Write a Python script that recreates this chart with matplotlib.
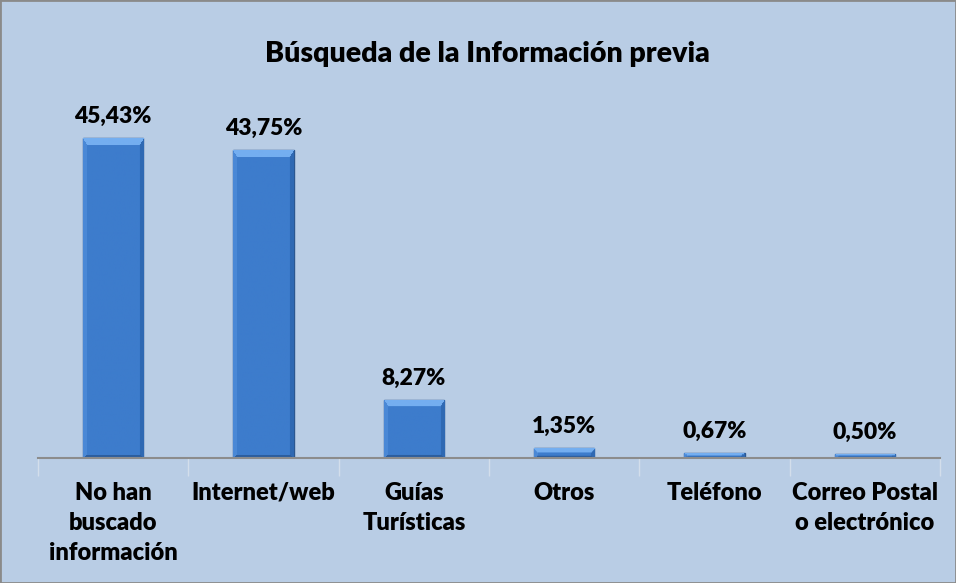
import matplotlib.pyplot as plt
import matplotlib.colors as mcolors
import numpy as np

categorias = ['No han\nbuscado\ninformación', 'Internet/web', 'Guías\nTurísticas',
              'Otros', 'Teléfono', 'Correo Postal\no electrónico']
porcentajes = [45.43, 43.75, 8.27, 1.35, 0.67, 0.50]
etiquetas = ['45,43%', '43,75%', '8,27%', '1,35%', '0,67%', '0,50%']

fondo = '#b9cde5'
peso = 800
plt.rcParams['font.family'] = ['Lato', 'DejaVu Sans']

fig = plt.figure(figsize=(9.56, 5.83), dpi=100, facecolor=fondo)
fig.patches.append(plt.Rectangle((0, 0), 1, 1, transform=fig.transFigure,
                                 fill=False, edgecolor='#8a8a8a', linewidth=2))

ax = fig.add_axes([38/956, 125/583, 902/956, 352/583])
ax.set_facecolor(fondo)
ax.set_xlim(-0.5, len(categorias) - 0.5)
ax.set_ylim(0, 50)

x = np.arange(len(categorias))
bar = ax.bar(x, porcentajes, 0.4, color='#3d7ccc', edgecolor='#2b5790', linewidth=1.0, zorder=3)

# relleno con bisel (imagen recortada a cada barra)
c_cara = np.array(mcolors.to_rgb('#3d7ccc'))
c_sup = np.array(mcolors.to_rgb('#74aef0'))
c_izq = np.array(mcolors.to_rgb('#4a88d6'))
c_der = np.array(mcolors.to_rgb('#2f69b3'))
c_inf = np.array(mcolors.to_rgb('#2c5e9e'))
fig.canvas.draw()
for rect in bar:
    (px0, py0), (px1, py1) = ax.transData.transform(
        [(rect.get_x(), 0), (rect.get_x() + rect.get_width(), rect.get_height())])
    nx, ny = max(int(px1 - px0), 2), max(int(py1 - py0), 2)
    b = min(7, ny / 2.0)
    bs = 4
    img = np.zeros((ny, nx, 3))
    for j in range(ny):
        for i in range(nx):
            dt, db = j + 0.5, ny - j - 0.5
            dl, dr = i + 0.5, nx - i - 0.5
            if dt < b and dt * bs / b <= min(dl, dr):
                img[j, i] = c_sup
            elif db < b / 2 and db * 2 * bs / b <= min(dl, dr):
                img[j, i] = c_inf
            elif dl < bs and dl <= dr:
                img[j, i] = c_izq
            elif dr < bs:
                img[j, i] = c_der
            else:
                img[j, i] = c_cara
    im = ax.imshow(img, extent=(rect.get_x(), rect.get_x() + rect.get_width(), 0, rect.get_height()),
                   aspect='auto', interpolation='bilinear', zorder=3.5)
    im.set_clip_path(rect)

for rect, txt in zip(bar, etiquetas):
    height = rect.get_height()
    ax.annotate(txt, (rect.get_x() + rect.get_width()/2.0, height), xytext=(0, 8),
                textcoords='offset points', ha='center', va='bottom',
                fontsize=16.5, fontweight=peso, color='black')

ax.set_xticks(x)
ax.set_xticklabels(categorias, fontsize=17, fontweight=peso, linespacing=1.45)
ax.tick_params(axis='x', which='major', length=0, pad=17)
ax.set_xticks(np.arange(len(categorias) + 1) - 0.5, minor=True)
ax.tick_params(axis='x', which='minor', length=13, color='#d3deeb', width=1)
ax.set_yticks([])
for s in ['top', 'right', 'left']:
    ax.spines[s].set_visible(False)
ax.spines['bottom'].set_color('#8c8c8c')
ax.spines['bottom'].set_linewidth(1.5)
ax.spines['bottom'].set_zorder(5)

fig.text(0.51, 1 - 54/583, 'Búsqueda de la Información previa', ha='center', va='center',
         fontsize=20.5, fontweight=peso)

fig.savefig('out.png', dpi=100, facecolor=fondo)
